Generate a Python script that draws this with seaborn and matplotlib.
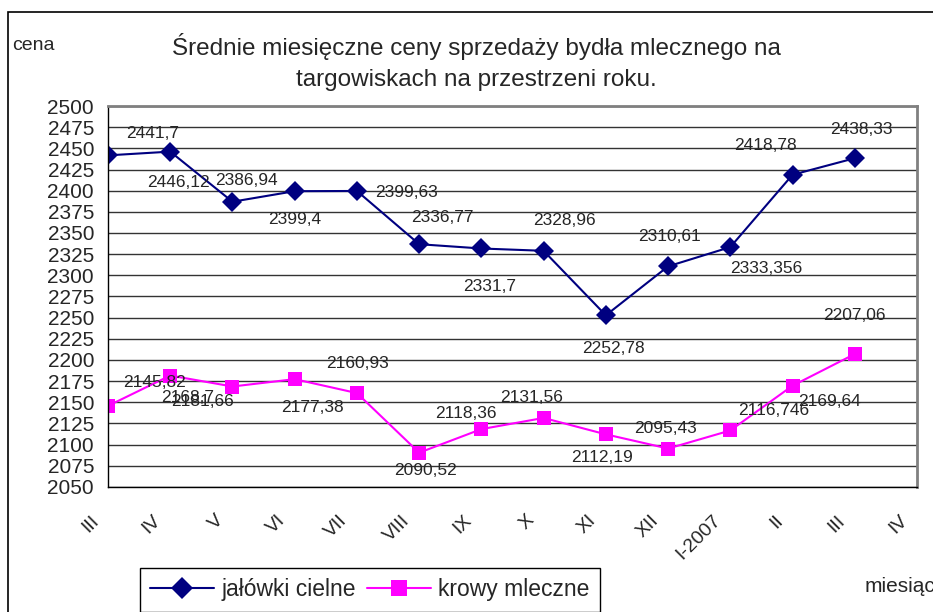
import matplotlib
matplotlib.use('Agg')
import matplotlib.pyplot as plt
import matplotlib.transforms as mtransforms
import seaborn as sns
import pandas as pd
from matplotlib.patches import Rectangle

months = ['III', 'IV', 'V', 'VI', 'VII', 'VIII', 'IX', 'X', 'XI', 'XII', 'I-2007', 'II', 'III', 'IV']
jalowki = [2441.7, 2446.12, 2386.94, 2399.4, 2399.63, 2336.77, 2331.7, 2328.96,
           2252.78, 2310.61, 2333.356, 2418.78, 2438.33]
krowy = [2145.82, 2181.66, 2168.7, 2177.38, 2160.93, 2090.52, 2118.36, 2131.56,
         2112.19, 2095.43, 2116.746, 2169.64, 2207.06]
jalowki_lab = ['2441,7', '2446,12', '2386,94', '2399,4', '2399,63', '2336,77', '2331,7',
               '2328,96', '2252,78', '2310,61', '2333,356', '2418,78', '2438,33']
krowy_lab = ['2145,82', '2181,66', '2168,7', '2177,38', '2160,93', '2090,52', '2118,36',
             '2131,56', '2112,19', '2095,43', '2116,746', '2169,64', '2207,06']

# where excel dropped the data labels (pixel offsets from the point)
off_j = [(45, 22), (8, -31), (14, 21), (0, -28), (50, -2), (23, 27), (8, -38),
         (21, 30), (8, -33), (1, 30), (36, -21), (-27, 29), (7, 29)]
off_k = [(47, 23), (32, -26), (-45, -11), (18, -28), (1, 30), (6, -18), (-16, 16),
         (-12, 20), (-4, -23), (-3, 20), (43, 20), (37, -16), (0, 39)]

df = pd.DataFrame({
    'idx': list(range(len(jalowki))) * 2,
    'cena': jalowki + krowy,
    'seria': ['jałówki cielne'] * len(jalowki) + ['krowy mleczne'] * len(krowy),
})

sns.set_style('white')
plt.rcParams['font.family'] = ['Liberation Sans', 'DejaVu Sans']

fig = plt.figure(figsize=(9.33, 6.12), dpi=100)
ax = fig.add_axes([108 / 933, 1 - 487 / 612, (917 - 108) / 933, (487 - 106) / 612])

palette = {'jałówki cielne': '#000080', 'krowy mleczne': '#ff00ff'}
markers = {'jałówki cielne': 'D', 'krowy mleczne': 's'}
sns.lineplot(data=df, x='idx', y='cena', hue='seria', style='seria', palette=palette,
             markers=markers, dashes=False, markersize=10, linewidth=1.5,
             markeredgewidth=0, ax=ax, legend=False)

for i, (v, t) in enumerate(zip(jalowki, jalowki_lab)):
    ax.annotate(t, (i, v), xytext=off_j[i], textcoords='offset pixels',
                ha='center', va='center', fontsize=12.5)
for i, (v, t) in enumerate(zip(krowy, krowy_lab)):
    ax.annotate(t, (i, v), xytext=off_k[i], textcoords='offset pixels',
                ha='center', va='center', fontsize=12.5)

ax.set_xlim(0, len(months) - 1)
ax.set_ylim(2050, 2500)
ax.set_yticks(range(2050, 2501, 25))
ax.set_xticks(range(len(months)))
ax.set_xticklabels(months, rotation=45, ha='right', rotation_mode='anchor')
ax.set_xlabel('')
ax.set_ylabel('')
ax.grid(axis='y', color='#333333', linewidth=1)
ax.tick_params(axis='y', labelsize=15, direction='inout', length=10, width=1, pad=5)
ax.tick_params(axis='x', labelsize=14, direction='out', length=6, width=1, pad=12)
shift = mtransforms.ScaledTranslation(-18 / 100, 0, fig.dpi_scale_trans)
for lbl in ax.get_xticklabels():
    lbl.set_transform(lbl.get_transform() + shift)
for s in ['top', 'right']:
    ax.spines[s].set_color('#808080')
    ax.spines[s].set_linewidth(2)
for s in ['left', 'bottom']:
    ax.spines[s].set_color('black')
    ax.spines[s].set_linewidth(1)

fig.patches.append(Rectangle((8 / 933, -0.1), 1.2, 1 - 12 / 612 + 0.1, transform=fig.transFigure,
                             fill=False, edgecolor='black', linewidth=1.2))

fig.text(0.511, 1 - 46 / 612, 'Średnie miesięczne ceny sprzedaży bydła mlecznego na',
         ha='center', va='center', fontsize=17.5)
fig.text(0.511, 1 - 80 / 612, 'targowiskach na przestrzeni roku.',
         ha='center', va='center', fontsize=17.5)
fig.text(12 / 933, 1 - 45 / 612, 'cena', ha='left', va='center', fontsize=14)
fig.text(865 / 933, 1 - 586 / 612, 'miesiąc', ha='left', va='center', fontsize=15)

handles = [plt.Line2D([], [], color=palette[k], marker=markers[k], markersize=11,
                      markeredgewidth=0, linewidth=1.5, label=k) for k in palette]
fig.legend(handles=handles, loc='upper left', bbox_to_anchor=(140 / 933, 1 - 568 / 612),
           ncol=2, frameon=True, fancybox=False, edgecolor='black', fontsize=16.5,
           handlelength=2.8, columnspacing=0.5, handletextpad=0.3, borderpad=0.45,
           borderaxespad=0, framealpha=1)

fig.savefig('out.png', dpi=100)
